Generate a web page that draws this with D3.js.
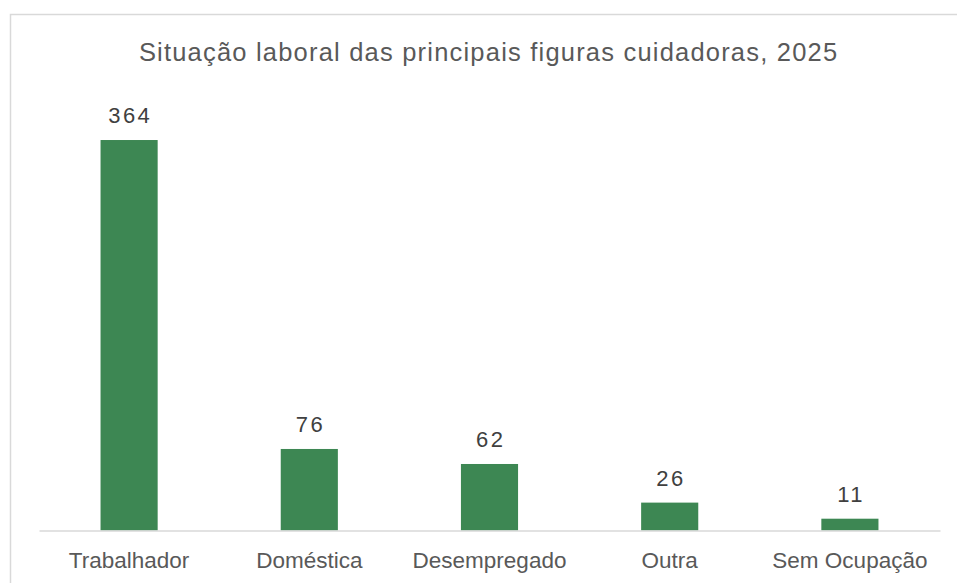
<!DOCTYPE html>
<html><head><meta charset="utf-8">
<script src="https://cdn.jsdelivr.net/npm/d3@7"></script>
<style>body{margin:0;background:#fff}svg{display:block}</style>
</head><body>
<svg id="c" width="957" height="583"></svg>
<script>
const title = "Situação laboral das principais figuras cuidadoras, 2025";
const categories = ["Trabalhador","Doméstica","Desempregado","Outra","Sem Ocupação"];
const values = [364, 76, 62, 26, 11];
const yMax = 400;

const svg = d3.select("#c");
const font = "'Liberation Sans', Arial, sans-serif";
svg.append("rect").attr("x",10.5).attr("y",14.5).attr("width",1000).attr("height",700)
  .attr("fill","#fff").attr("stroke","#d9d9d9").attr("stroke-width",1.5);

const x = d3.scaleBand().domain(categories).range([39,940]).paddingInner(0.683).paddingOuter(0.3415);
const y = d3.scaleLinear().domain([0,yMax]).range([530.5,101.4]);

svg.append("text").attr("x",488+0.6).attr("y",61).attr("text-anchor","middle")
  .attr("font-family",font).attr("font-size",25.5).attr("letter-spacing",1.2)
  .attr("fill","#595959").text(title);

svg.selectAll("rect.bar").data(values).join("rect").attr("class","bar")
  .attr("x",(d,i)=>x(categories[i])).attr("width",x.bandwidth())
  .attr("y",d=>y(d)).attr("height",d=>y(0)-y(d)).attr("fill","#3d8753");

svg.selectAll("text.val").data(values).join("text").attr("class","val")
  .attr("x",(d,i)=>x(categories[i])+x.bandwidth()/2+1.2).attr("y",d=>y(d)-17)
  .attr("text-anchor","middle").attr("font-family",font).attr("font-size",22)
  .attr("letter-spacing",2.4).attr("fill","#404040").text(d=>d);

const ax = svg.append("g").attr("transform",`translate(0,${y(0)})`)
  .call(d3.axisBottom(x).tickSize(0).tickPadding(21.5));
ax.select(".domain").attr("stroke","#d9d9d9").attr("stroke-width",1.5);
ax.selectAll("text").attr("font-family",font).attr("font-size",22.5).attr("fill","#595959");
</script>
</body></html>
